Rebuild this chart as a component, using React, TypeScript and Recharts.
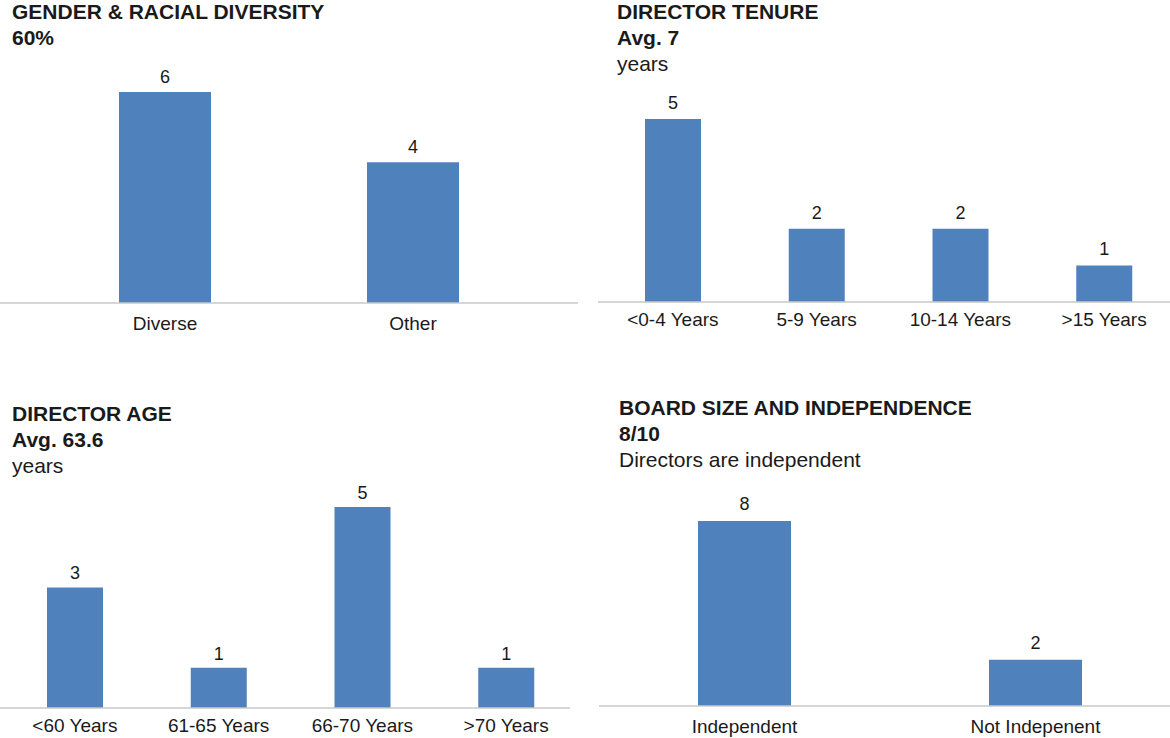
import React from 'react'
import { BarChart, Bar, XAxis, YAxis, LabelList } from 'recharts'

// 4 small Excel-style bar panels: diversity, tenure, age, independence

const DIVERSITY_CATEGORIES = ['Diverse', 'Other']
const DIVERSITY_VALUES = [6, 4]

const TENURE_CATEGORIES = ['<0-4 Years', '5-9 Years', '10-14 Years', '>15 Years']
const TENURE_VALUES = [5, 2, 2, 1]

const AGE_CATEGORIES = ['<60 Years', '61-65 Years', '66-70 Years', '>70 Years']
const AGE_VALUES = [3, 1, 5, 1]

const INDEPENDENCE_CATEGORIES = ['Independent', 'Not Indepenent']
const INDEPENDENCE_VALUES = [8, 2]

const BAR_COLOR = '#4F81BD'
const AXIS_COLOR = '#C8C8C8'
const TEXT_COLOR = '#1a1a1a'
const FONT = '"Liberation Sans", Arial, Helvetica, sans-serif'

interface PanelProps {
  categories: string[]
  values: number[]
  left: number
  top: number
  width: number
  height: number
  plotTop: number
  plotBottom: number
  yMax: number
  barSize: number
  padding: { left: number; right: number }
  tickMargin: number
  labelOffset: number
}

function Panel({ categories, values, left, top, width, height, plotTop, plotBottom, yMax, barSize, padding, tickMargin, labelOffset }: PanelProps) {
  const data = categories.map((name, i) => ({ name, value: values[i] }))
  return (
    <div style={{ position: 'absolute', left, top }}>
      <BarChart
        width={width}
        height={height}
        data={data}
        margin={{ top: plotTop - top, right: 0, left: 0, bottom: top + height - plotBottom - 30 }}
      >
        <XAxis
          dataKey="name"
          interval={0}
          axisLine={{ stroke: AXIS_COLOR, strokeWidth: 1.3 }}
          tickLine={false}
          tickMargin={tickMargin}
          padding={padding}
          tick={{ fontSize: 19, fill: TEXT_COLOR }}
        />
        <YAxis hide domain={[0, yMax]} />
        <Bar dataKey="value" fill={BAR_COLOR} barSize={barSize} isAnimationActive={false}>
          <LabelList dataKey="value" position="top" offset={labelOffset} fontSize={18} fill={TEXT_COLOR} />
        </Bar>
      </BarChart>
    </div>
  )
}

function Title({ left, top, lines }: { left: number; top: number; lines: { text: string; bold: boolean }[] }) {
  return (
    <div style={{ position: 'absolute', left, top, color: TEXT_COLOR, fontSize: 21, lineHeight: '26px', whiteSpace: 'nowrap' }}>
      {lines.map((l, i) => (
        <div key={i} style={{ fontWeight: l.bold ? 700 : 400 }}>{l.text}</div>
      ))}
    </div>
  )
}

export default function App() {
  return (
    <div style={{ position: 'relative', width: 1170, height: 738, overflow: 'hidden', background: '#fff', fontFamily: FONT }}>
      <style>{'body{margin:0}'}</style>

      <Title left={12} top={-1} lines={[{ text: 'GENDER & RACIAL DIVERSITY', bold: true }, { text: '60%', bold: true }]} />
      <Panel
        categories={DIVERSITY_CATEGORIES}
        values={DIVERSITY_VALUES}
        left={0}
        top={0}
        width={578}
        height={360}
        plotTop={92}
        plotBottom={303}
        yMax={6}
        barSize={92}
        padding={{ left: 41, right: 41 }}
        tickMargin={7.5}
        labelOffset={9}
      />

      <Title left={617} top={-1} lines={[{ text: 'DIRECTOR TENURE', bold: true }, { text: 'Avg. 7', bold: true }, { text: 'years', bold: false }]} />
      <Panel
        categories={TENURE_CATEGORIES}
        values={TENURE_VALUES}
        left={598}
        top={0}
        width={578}
        height={360}
        plotTop={119}
        plotBottom={302}
        yMax={5}
        barSize={56}
        padding={{ left: 3, right: 0 }}
        tickMargin={5}
        labelOffset={10}
      />

      <Title left={12} top={401} lines={[{ text: 'DIRECTOR AGE', bold: true }, { text: 'Avg. 63.6', bold: true }, { text: 'years', bold: false }]} />
      <Panel
        categories={AGE_CATEGORIES}
        values={AGE_VALUES}
        left={0}
        top={380}
        width={570}
        height={358}
        plotTop={507}
        plotBottom={708}
        yMax={5}
        barSize={56}
        padding={{ left: 3, right: -8 }}
        tickMargin={5}
        labelOffset={8}
      />

      <Title left={619} top={395} lines={[{ text: 'BOARD SIZE AND INDEPENDENCE', bold: true }, { text: '8/10', bold: true }, { text: 'Directors are independent', bold: false }]} />
      <Panel
        categories={INDEPENDENCE_CATEGORIES}
        values={INDEPENDENCE_VALUES}
        left={599}
        top={380}
        width={582}
        height={358}
        plotTop={521}
        plotBottom={706}
        yMax={8}
        barSize={93}
        padding={{ left: 0, right: 0 }}
        tickMargin={7.5}
        labelOffset={11}
      />
    </div>
  )
}
